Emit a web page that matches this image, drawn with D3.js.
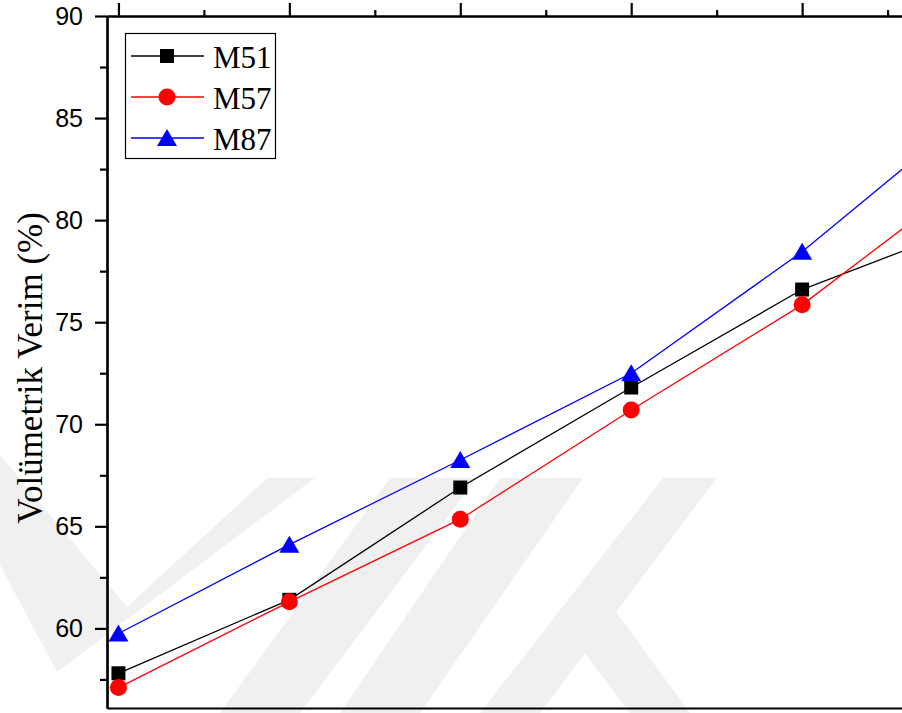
<!DOCTYPE html>
<html>
<head>
<meta charset="utf-8">
<script src="https://cdn.jsdelivr.net/npm/d3@7"></script>
<style>
  body { margin: 0; background: #fff; }
  svg { display: block; }
</style>
</head>
<body>
<svg id="chart" width="902" height="713"></svg>
<script>
// data
var xVals = [1, 2, 3, 4, 5, 6];
var m51 = [57.8, 61.4, 66.9, 71.8, 76.6, 79.8];
var m57 = [57.1, 61.3, 65.35, 70.7, 75.85, 82.2];
var m87 = [59.75, 64.1, 68.25, 72.5, 78.45, 85.35];
var seriesNames = ["M51", "M57", "M87"];
var seriesColors = ["#000000", "#ff0000", "#0000ff"];
var yMajor = [60, 65, 70, 75, 80, 85, 90];
var yMinor = [57.5, 62.5, 67.5, 72.5, 77.5, 82.5, 87.5];
var xMinor = [1.5, 2.5, 3.5, 4.5, 5.5];
var yTitle = "Volümetrik Verim (%)";

var svg = d3.select("#chart");

// plot frame (window.top is taken, so own names)
var frameL = 107, frameT = 16, frameB = 708, frameR = 985;

var x = d3.scaleLinear().domain([0.933, 6.07]).range([frameL, frameR]);
var y = d3.scaleLinear().domain([56.1, 90]).range([frameB, frameT]);

// faint watermark in the background
var wm = [
  [[0,455],[127,607],[267,478],[315,478],[57,672],[0,565]],
  [[390,478],[477,478],[300,713],[220,713]],
  [[500,478],[583,478],[420,713],[340,713]],
  [[663,478],[717,478],[540,713],[480,713]],
  [[560,620],[600,590],[690,713],[630,713]]
];
svg.append("g").selectAll("polygon").data(wm).enter().append("polygon")
  .attr("points", function(d){ return d.map(function(p){ return p.join(","); }).join(" "); })
  .style("fill", "#f0f0f0");

svg.append("clipPath").attr("id", "plotclip").append("rect")
  .attr("x", frameL).attr("y", frameT).attr("width", frameR - frameL).attr("height", frameB - frameT);

// axes
var gy = svg.append("g").attr("transform", "translate(" + frameL + ",0)")
  .call(d3.axisLeft(y).tickValues(yMajor).tickSize(12).tickSizeOuter(0).tickPadding(12).tickFormat(d3.format("d")));
svg.append("g").attr("transform", "translate(" + frameL + ",0)")
  .call(d3.axisLeft(y).tickValues(yMinor).tickSize(7).tickSizeOuter(0).tickFormat(""));

svg.append("g").attr("transform", "translate(0," + frameT + ")")
  .call(d3.axisTop(x).tickValues(xVals).tickSize(13).tickSizeOuter(0).tickFormat(""));
svg.append("g").attr("transform", "translate(0," + frameT + ")")
  .call(d3.axisTop(x).tickValues(xMinor).tickSize(6).tickSizeOuter(0).tickFormat(""));
svg.append("g").attr("transform", "translate(0," + frameB + ")")
  .call(d3.axisBottom(x).tickValues([]).tickSize(0).tickSizeOuter(0));

svg.selectAll(".domain").style("stroke", "#000").style("stroke-width", 2.2);
svg.selectAll(".tick line").style("stroke", "#000").style("stroke-width", 2.2);
gy.selectAll(".tick text")
  .style("font-family", "'Liberation Sans', Arial, sans-serif")
  .style("font-size", "25px")
  .style("fill", "#000");

// y title
svg.append("text")
  .attr("transform", "translate(42,368) rotate(-90)")
  .attr("text-anchor", "middle")
  .style("font-family", "'Liberation Serif', 'Times New Roman', serif")
  .style("font-size", "35px")
  .style("fill", "#000")
  .text(yTitle);

// markers
function marker(sel, i, cx, cy, c) {
  if (i == 0) {
    sel.append("rect").attr("x", cx - 7).attr("y", cy - 7).attr("width", 14).attr("height", 14).style("fill", c);
  } else if (i == 1) {
    sel.append("circle").attr("cx", cx).attr("cy", cy).attr("r", 8.5).style("fill", c);
  } else {
    sel.append("path").attr("d", "M" + cx + "," + (cy - 9) + "L" + (cx + 10) + "," + (cy + 8) + "L" + (cx - 10) + "," + (cy + 8) + "Z").style("fill", c);
  }
}

var allSeries = [m51, m57, m87];
var plot = svg.append("g").attr("clip-path", "url(#plotclip)");
var line = d3.line().x(function(d, i){ return x(xVals[i]); }).y(function(d){ return y(d); });

allSeries.forEach(function(s, i){
  plot.append("path").datum(s).attr("d", line)
    .style("fill", "none").style("stroke", seriesColors[i]).style("stroke-width", 1.3);
});
allSeries.forEach(function(s, i){
  var g = plot.append("g");
  s.forEach(function(v, j){ marker(g, i, x(xVals[j]), y(v), seriesColors[i]); });
});

// legend
var lg = svg.append("g");
lg.append("rect").attr("x", 125.5).attr("y", 33.5).attr("width", 150).attr("height", 125)
  .style("fill", "#fff").style("stroke", "#000").style("stroke-width", 1.2);
seriesNames.forEach(function(n, i){
  var cy = 56 + i * 41;
  lg.append("line").attr("x1", 131).attr("x2", 204).attr("y1", cy).attr("y2", cy)
    .style("stroke", seriesColors[i]).style("stroke-width", 1.3);
  marker(lg, i, 167, cy, seriesColors[i]);
  lg.append("text").attr("x", 213).attr("y", cy + 12)
    .style("font-family", "'Liberation Serif', 'Times New Roman', serif")
    .style("font-size", "31px")
    .style("fill", "#000")
    .text(n);
});
</script>
</body>
</html>
